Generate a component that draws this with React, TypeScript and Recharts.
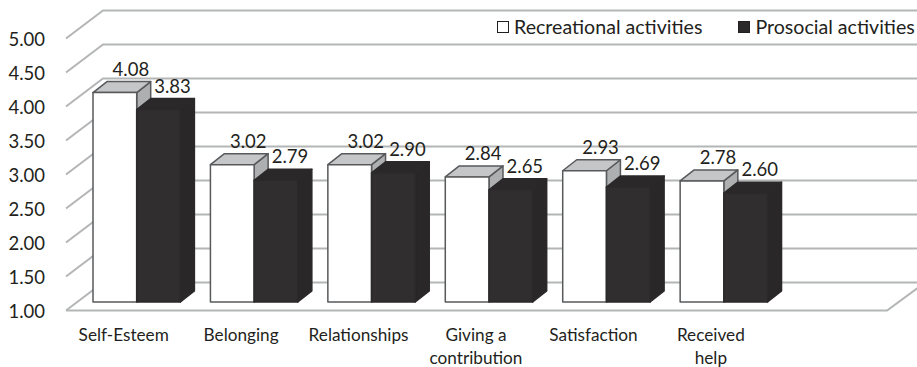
import { Bar, BarChart, CartesianGrid, LabelList, Legend, Text, XAxis, YAxis } from "recharts";

const categories = ["Self-Esteem", "Belonging", "Relationships", "Giving a contribution", "Satisfaction", "Received help", ""];
const recreational = [4.08, 3.02, 3.02, 2.84, 2.93, 2.78, null];
const prosocial = [3.83, 2.79, 2.9, 2.65, 2.69, 2.6, null];
const yTicks = [1, 1.5, 2, 2.5, 3, 3.5, 4, 4.5, 5];

const data = categories.map((name, i) => ({
  name,
  recreational: recreational[i],
  prosocial: prosocial[i],
}));

const FONT = "Lato, sans-serif";
const INK = "#231f20";
const GRID = "#b4b5b6";

// box depth of each bar
const DEPTH_X = 14;
const DEPTH_Y = 11;

// the floor and wall sit in front of and behind the plane the bars stand on
const FRONT_X = -12;
const FRONT_Y = 8.5;
const BACK_X = 25;
const BACK_Y = -19.5;

const gridLine = (props: any) => {
  const { x1, x2, y1, y, height, index } = props;
  const frontY = y1 + FRONT_Y;
  const backY = y1 + BACK_Y;
  const isFloor = Math.abs(y1 - (y + height)) < 0.5;
  return (
    <g key={index} fill="none" stroke={GRID} strokeWidth={2}>
      <polyline points={`${x1 + FRONT_X},${frontY} ${x1 + BACK_X},${backY} ${x2 + BACK_X},${backY}`} />
      {isFloor && <polyline points={`${x1 + FRONT_X},${frontY} ${x2 - 13},${frontY} ${x2 + BACK_X},${backY}`} />}
    </g>
  );
};

const makeBox = (front: string, top: string, side: string, stroke: string) => (props: any) => {
  const { x, y, width, height } = props;
  if (!height) return <g />;
  const r = x + width;
  const b = y + height;
  return (
    <g stroke={stroke} strokeWidth={1.5} strokeLinejoin="round">
      <polygon fill={side} points={`${r},${y} ${r + DEPTH_X},${y - DEPTH_Y} ${r + DEPTH_X},${b - DEPTH_Y} ${r},${b}`} />
      <polygon fill={top} points={`${x},${y} ${x + DEPTH_X},${y - DEPTH_Y} ${r + DEPTH_X},${y - DEPTH_Y} ${r},${y}`} />
      <rect x={x} y={y} width={width} height={height} fill={front} />
    </g>
  );
};

const makeValueLabel = (shift: number) => (props: any) => {
  const { x, y, width, value } = props;
  if (value == null) return null;
  return (
    <text
      x={x + width / 2 + shift}
      y={y - 24}
      textAnchor="middle"
      dominantBaseline="central"
      fontFamily={FONT}
      fontSize={18.5}
      fill={INK}
    >
      {Number(value).toFixed(2)}
    </text>
  );
};

const yTick = (props: any) => {
  const { y, payload } = props;
  return (
    <text x={45} y={y + FRONT_Y} textAnchor="end" dominantBaseline="central" fontFamily={FONT} fontSize={18.5} fill={INK}>
      {Number(payload.value).toFixed(2)}
    </text>
  );
};

const xTick = (props: any) => {
  const { x, y, payload } = props;
  return (
    <Text
      x={x - 13}
      y={y + 19}
      width={90}
      textAnchor="middle"
      verticalAnchor="start"
      lineHeight={23}
      fontFamily={FONT}
      fontSize={17.2}
      fill={INK}
    >
      {payload.value}
    </Text>
  );
};

const legendContent = (props: any) => {
  const { payload } = props;
  return (
    <div style={{ display: "flex", fontFamily: FONT, fontSize: 19.6, color: INK, lineHeight: "26px" }}>
      {payload.map((item: any) => (
        <div key={item.value} style={{ display: "flex", alignItems: "center", marginRight: 36, whiteSpace: "nowrap" }}>
          <span
            style={{
              width: 12,
              height: 12,
              marginRight: 5,
              boxSizing: "border-box",
              border: `1.5px solid ${INK}`,
              background: item.color,
            }}
          />
          {item.value}
        </div>
      ))}
    </div>
  );
};

export default function App() {
  return (
    <div style={{ position: "absolute", left: 0, top: 0 }}>
      <BarChart
        width={917}
        height={367}
        data={data}
        margin={{ top: 30, right: 17, bottom: 0, left: 0 }}
        barGap={0}
        barSize={43.7}
      >
        <CartesianGrid vertical={false} horizontal={gridLine} />
        <XAxis dataKey="name" height={65} axisLine={false} tickLine={false} interval={0} tick={xTick} />
        <YAxis domain={[1, 5]} ticks={yTicks} width={78} axisLine={false} tickLine={false} tick={yTick} />
        <Legend
          align="center"
          verticalAlign="middle"
          itemSorter={null}
          content={legendContent}
          wrapperStyle={{ top: 14, left: 497, width: 420 }}
        />
        <Bar
          dataKey="recreational"
          name="Recreational activities"
          fill="#ffffff"
          isAnimationActive={false}
          shape={makeBox("#ffffff", "#c5c6c7", "#aeafb1", "#58595b")}
        >
          <LabelList dataKey="recreational" content={makeValueLabel(16)} />
        </Bar>
        <Bar
          dataKey="prosocial"
          name="Prosocial activities"
          fill="#2b292a"
          isAnimationActive={false}
          shape={makeBox("#302e2f", "#2a2829", "#292728", "#2b292a")}
        >
          <LabelList dataKey="prosocial" content={makeValueLabel(14)} />
        </Bar>
      </BarChart>
    </div>
  );
}
